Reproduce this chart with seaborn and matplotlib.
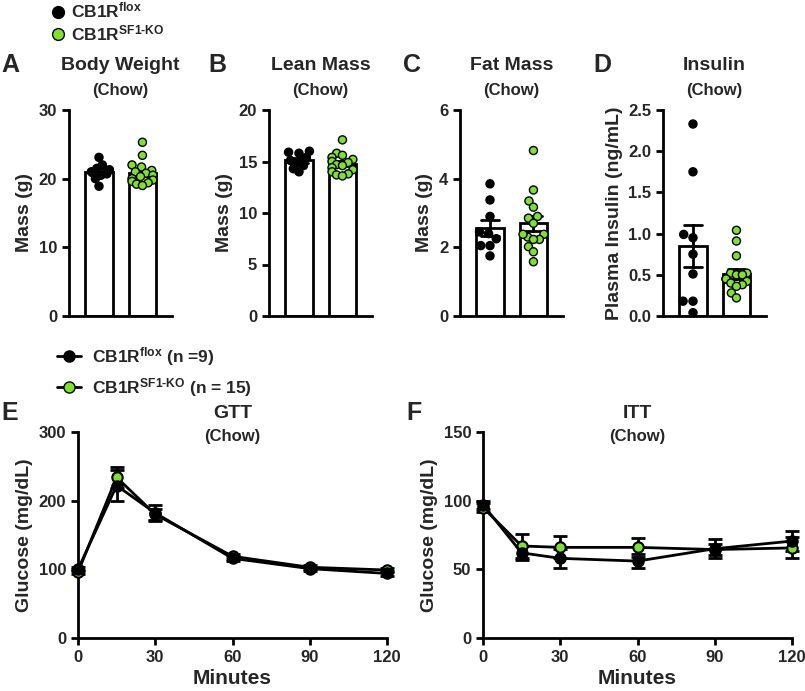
import numpy as np
import pandas as pd
import matplotlib
matplotlib.use("Agg")
import matplotlib.pyplot as plt
import seaborn as sns
from matplotlib.lines import Line2D

# ---------------- data ----------------
groups = ["flox", "KO"]
group_colors = {"flox": "#000000", "KO": "#7EE22C"}

bw_flox = [23.1, 22.0, 21.5, 21.3, 21.0, 20.7, 20.5, 20.0, 18.9]
bw_ko = [25.3, 23.4, 22.0, 21.7, 21.2, 21.0, 20.8, 20.5, 20.3, 20.0, 19.8, 19.6, 19.4, 19.2, 19.0]

lean_flox = [16.0, 15.9, 15.8, 15.4, 15.1, 14.9, 14.6, 14.3, 14.0]
lean_ko = [17.1, 15.8, 15.6, 15.4, 15.2, 15.0, 14.9, 14.7, 14.6, 14.4, 14.2, 14.0, 13.8, 13.7, 13.6]

fat_flox = [3.85, 3.38, 2.9, 2.45, 2.4, 2.25, 2.05, 2.05, 1.75]
fat_ko = [4.82, 3.67, 3.35, 3.17, 2.9, 2.85, 2.7, 2.3, 2.38, 2.38, 2.23, 2.23, 2.02, 1.87, 1.58]

ins_flox = [2.33, 1.75, 0.99, 0.95, 0.75, 0.51, 0.18, 0.18, 0.04]
ins_ko = [1.04, 0.91, 0.73, 0.52, 0.52, 0.5, 0.5, 0.45, 0.45, 0.42, 0.4, 0.38, 0.36, 0.28, 0.22]

minutes = [0, 15, 30, 60, 90, 120]
gtt_flox = [100, 222, 182, 116, 101, 94]
gtt_flox_sem = [3, 22, 12, 4, 3, 3]
gtt_ko = [96, 234, 180, 119, 103, 99]
gtt_ko_sem = [3, 15, 8, 4, 3, 3]

itt_flox = [97, 62, 58, 56, 65, 70.6]
itt_flox_sem = [3, 5, 7, 5, 7, 7.3]
itt_ko = [95, 67, 66, 66, 64.4, 65.6]
itt_ko_sem = [3, 8.5, 8, 7, 4, 7.6]

# ---------------- style ----------------
sns.set_style("ticks")
plt.rcParams["font.family"] = ["Liberation Sans", "DejaVu Sans"]
plt.rcParams["font.weight"] = "bold"
plt.rcParams["axes.labelweight"] = "bold"
plt.rcParams["mathtext.fontset"] = "custom"
plt.rcParams["mathtext.rm"] = "Liberation Sans:bold"
plt.rcParams["mathtext.it"] = "Liberation Sans:bold"
plt.rcParams["mathtext.bf"] = "Liberation Sans:bold"
plt.rcParams["mathtext.default"] = "rm"

W, H = 805, 691
fig = plt.figure(figsize=(W / 100, H / 100), dpi=100)


def add_ax(l, t, r, b):
    return fig.add_axes([l / W, 1 - b / H, (r - l) / W, (b - t) / H])


def style_axis(ax, ticksize=12):
    for s in ["top", "right"]:
        ax.spines[s].set_visible(False)
    for s in ["left", "bottom"]:
        ax.spines[s].set_linewidth(2)
        ax.spines[s].set_color("black")
    ax.tick_params(axis="both", width=2, length=5, color="black",
                   labelsize=ticksize, direction="out")
    for lab in ax.get_xticklabels() + ax.get_yticklabels():
        lab.set_fontweight("bold")


def px_text(x, y, s, size, ha="center"):
    fig.text(x / W, 1 - y / H, s, fontsize=size, fontweight="bold",
             ha=ha, va="center")


lab_flox = r"CB1R$^{flox}$"
lab_ko = r"CB1R$^{SF1\text{-}KO}$"

# ---------------- top bar panels ----------------
panels = [
    ("A", "Body Weight", bw_flox, bw_ko, 69, (0, 30), [0, 10, 20, 30], "Mass (g)", None),
    ("B", "Lean Mass", lean_flox, lean_ko, 269, (0, 20), [0, 5, 10, 15, 20], "Mass (g)", None),
    ("C", "Fat Mass", fat_flox, fat_ko, 460, (0, 6), [0, 2, 4, 6], "Mass (g)", None),
    ("D", "Insulin", ins_flox, ins_ko, 663, (0, 2.5), [0, 0.5, 1.0, 1.5, 2.0, 2.5],
     "Plasma Insulin (ng/mL)", "%.1f"),
]
letter_x = {"A": 10, "B": 217, "C": 412, "D": 602}

for letter, title, vf, vk, L, ylim, yt, ylabel, fmt in panels:
    ax = add_ax(L, 110, L + 103, 316)
    df = pd.DataFrame({
        "group": ["flox"] * len(vf) + ["KO"] * len(vk),
        "value": list(vf) + list(vk),
    })
    sns.barplot(data=df, x="group", y="value", order=groups, color="white",
                saturation=1, edgecolor="black", linewidth=2, width=0.64,
                errorbar="se", capsize=0.4,
                err_kws={"color": "black", "linewidth": 2}, ax=ax)
    n_before = len(ax.collections)
    sns.swarmplot(data=df, x="group", y="value", order=groups, hue="group",
                  palette=group_colors, size=5.8, edgecolor="black",
                  linewidth=1, legend=False, ax=ax, zorder=3)
    ax.set_xlim(-0.69, 1.68)
    ax.set_ylim(*ylim)
    fig.canvas.draw()
    # compact the swarm so the points overlap like the original
    for c in ax.collections[n_before:]:
        off = np.asarray(c.get_offsets(), dtype=float)
        if len(off):
            ctr = np.round(off[:, 0])
            dev = off[:, 0] - ctr
            mx = np.abs(dev).max()
            if mx > 0.24:
                dev = dev * (0.24 / mx)
            off[:, 0] = ctr + dev
            c.set_offsets(off)
        if "draw" in c.__dict__:
            del c.__dict__["draw"]
    ax.set_yticks(yt)
    if fmt:
        ax.set_yticklabels([fmt % v for v in yt])
    ax.set_xticks([])
    ax.set_xlabel("")
    ax.set_ylabel(ylabel, fontsize=14, fontweight="bold", labelpad=4)
    style_axis(ax)
    for c in ax.collections:
        c.set_clip_on(False)
    px_text(L + 51.5, 65, title, 14)
    px_text(L + 51.5, 90, "(Chow)", 12)
    px_text(letter_x[letter], 65, letter, 18)

# top legend
top_handles = [
    Line2D([], [], linestyle="none", marker="o", markersize=8.5,
           markerfacecolor=group_colors["flox"], markeredgecolor="black"),
    Line2D([], [], linestyle="none", marker="o", markersize=8.5,
           markerfacecolor=group_colors["KO"], markeredgecolor="black",
           markeredgewidth=1),
]
fig.legend(top_handles, [lab_flox, lab_ko], loc="upper left",
           bbox_to_anchor=(38 / W, 1 - (-6) / H), frameon=False,
           fontsize=12.5, handletextpad=0.0, labelspacing=0.15,
           handlelength=1.5, borderaxespad=0)

# ---------------- bottom line panels ----------------
line_panels = [
    ("E", "GTT", gtt_flox, gtt_flox_sem, gtt_ko, gtt_ko_sem, 78, 387,
     (0, 300), [0, 100, 200, 300], 10),
    ("F", "ITT", itt_flox, itt_flox_sem, itt_ko, itt_ko_sem, 483, 792,
     (0, 150), [0, 50, 100, 150], 414),
]
for letter, title, mf, sf, mk, sk, L, R, ylim, yt, lx in line_panels:
    ax = add_ax(L, 432, R, 638)
    df = pd.DataFrame({
        "minute": minutes * 2,
        "glucose": list(mf) + list(mk),
        "group": ["flox"] * len(mf) + ["KO"] * len(mk),
    })
    for g, m, s in [("KO", mk, sk), ("flox", mf, sf)]:
        ax.errorbar(minutes, m, yerr=s, fmt="none", ecolor="black",
                    elinewidth=2, capsize=5, capthick=2, clip_on=False, zorder=2)
        sns.lineplot(data=df[df["group"] == g], x="minute", y="glucose",
                     color="black", linewidth=2, marker="o", markersize=7.5,
                     markerfacecolor=group_colors[g], markeredgecolor="black",
                     markeredgewidth=1.5, ax=ax, errorbar=None, clip_on=False,
                     zorder=3)
    ax.set_xlim(0, 120)
    ax.set_xticks([0, 30, 60, 90, 120])
    ax.set_ylim(*ylim)
    ax.set_yticks(yt)
    ax.set_xlabel("Minutes", fontsize=15, fontweight="bold", labelpad=3)
    ax.set_ylabel("Glucose (mg/dL)", fontsize=14, fontweight="bold", labelpad=4)
    style_axis(ax)
    px_text((L + R) / 2, 413, title, 14)
    px_text((L + R) / 2, 436, "(Chow)", 12)
    px_text(lx, 413, letter, 18)

# bottom legend
bot_handles = [
    Line2D([], [], color="black", linewidth=2, marker="o", markersize=8,
           markerfacecolor=group_colors["flox"], markeredgecolor="black"),
    Line2D([], [], color="black", linewidth=2, marker="o", markersize=8,
           markerfacecolor=group_colors["KO"], markeredgecolor="black"),
]
fig.legend(bot_handles, [lab_flox + " (n =9)", lab_ko + " (n = 15)"],
           loc="upper left", bbox_to_anchor=(50 / W, 1 - 338 / H),
           frameon=False, fontsize=12.5, handletextpad=0.6,
           labelspacing=0.45, handlelength=1.4, borderaxespad=0)

fig.savefig("out.png", dpi=100)
